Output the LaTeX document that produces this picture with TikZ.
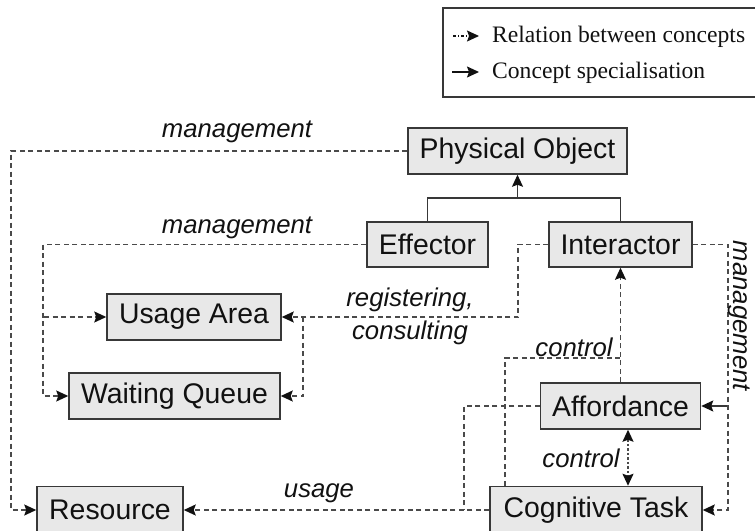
\documentclass[tikz,border=0pt]{standalone}
\usepackage{fontspec}
\setmainfont{Liberation Sans}
\newfontfamily\legendfont{Liberation Serif}
\usetikzlibrary{arrows.meta}
\definecolor{boxfill}{HTML}{E8E8E8}
\definecolor{boxline}{HTML}{383838}
\definecolor{relcol}{HTML}{4A4A4A}
\definecolor{ink}{HTML}{111111}
\begin{document}
\begin{tikzpicture}[x=1bp,y=-1bp,
  concept/.style={draw=boxline, fill=boxfill, line width=1.5bp, inner sep=0pt,
    text=ink, font=\fontsize{28.4bp}{34bp}\selectfont},
  rel/.style={draw=relcol, line width=1.6bp, dash pattern=on 5bp off 3.5bp},
  fine rel/.style={draw=relcol, line width=1.6bp, dash pattern=on 2.5bp off 2bp},
  spec/.style={draw=boxline, line width=1.5bp},
  head/.tip={Stealth[length=12bp,width=11bp,inset=2bp,color=ink]},
  arrowend/.style={-head},
  lab/.style={inner sep=0pt, text=ink, font=\fontsize{25.7bp}{33bp}\selectfont\itshape},
  legendtext/.style={inner sep=0pt, anchor=west, text=ink,
    font=\legendfont\fontsize{23.6bp}{28bp}\selectfont}]
\useasboundingbox (0,0) rectangle (755,531);
\clip (0,0) rectangle (755,531);

% legend
\node[draw=boxline, line width=1.4bp, minimum width=313bp, minimum height=89bp, inner sep=0pt]
  (legend) at (599.5,52.5) {};
\coordinate (rs) at (453,36); \coordinate (re) at (479,36);
\coordinate (ss) at (452,72); \coordinate (se) at (479,72);
\draw[draw=ink, line width=1.1bp, dash pattern=on 3bp off 2bp on 1bp off 2bp, arrowend] (rs) -- (re);
\draw[draw=ink, line width=1.4bp, arrowend] (ss) -- (se);
\node[legendtext] (l1) at (492,37) {Relation between concepts};
\node[legendtext] (l2) at (492,73) {Concept specialisation};

% concepts
\node[concept, minimum width=219bp, minimum height=46bp] (po)  at (517.5,151) {Physical Object};
\node[concept, minimum width=121bp, minimum height=45bp] (eff) at (427.5,244.5) {Effector};
\node[concept, minimum width=143bp, minimum height=45bp] (int) at (620.5,244.5) {Interactor};
\node[concept, minimum width=174bp, minimum height=46bp] (ua)  at (194,317) {Usage Area};
\node[concept, minimum width=211bp, minimum height=46bp] (wq)  at (174.5,396) {Waiting Queue};
\node[concept, minimum width=160bp, minimum height=46bp] (aff) at (620.5,406) {Affordance};
\node[concept, minimum width=146bp, minimum height=47bp] (res) at (110,510) {Resource};
\node[concept, minimum width=212bp, minimum height=47bp] (ct)  at (596,510) {Cognitive Task};

% specialisation tree
\coordinate (fork) at (517.5,198);
\draw[spec] (eff.north) |- (fork) -| (int.north);
\draw[spec, arrowend] (fork) -- (po.south);

% management of resources
\draw[rel, arrowend] (po.west) -- ++(-396,0) |- (res.west);
\node[lab] (m1) at (237,132) {management};

% management of usage area and waiting queue
\coordinate (j1) at (44,317);
\draw[rel, arrowend] (eff.west) -- ++(-323,0) |- (wq.west);
\draw[rel, arrowend] (j1) -- (ua.west);
\node[lab] (m2) at (237,228) {management};

% registering / consulting
\coordinate (j2) at (303,317);
\draw[rel, arrowend] (int.west) -- ++(-30,0) |- (ua.east);
\draw[rel, arrowend] (j2) |- (wq.east);
\node[lab, align=center] (rc) at (410,316.5) {registering,\\consulting};

% management of affordance and task
\coordinate (j3) at (727,406);
\draw[rel, arrowend] (int.east) -- ++(35,0) |- (ct.east);
\draw[spec, arrowend] (j3) -- (aff.east);
\node[lab, rotate=-90] (m3) at (739.5,316) {management};

% control
\coordinate (j4) at (620.5,358);
\draw[rel, arrowend] (aff.north) -- (int.south);
\draw[rel] ([xshift=-91bp]ct.north) |- (j4);
\node[lab] (c1) at (574,347) {control};
\draw[fine rel, head-head]
  ([xshift=7.5bp]aff.south) -- ([xshift=7.5bp]aff.south |- ct.north);
\node[lab] (c2) at (581,458) {control};

% usage
\coordinate (j5) at (464,510);
\draw[rel, arrowend] (ct.west) -- (res.east);
\draw[rel] (aff.west) -| (j5);
\node[lab] (u1) at (319,493) {usage};
\end{tikzpicture}
\end{document}
